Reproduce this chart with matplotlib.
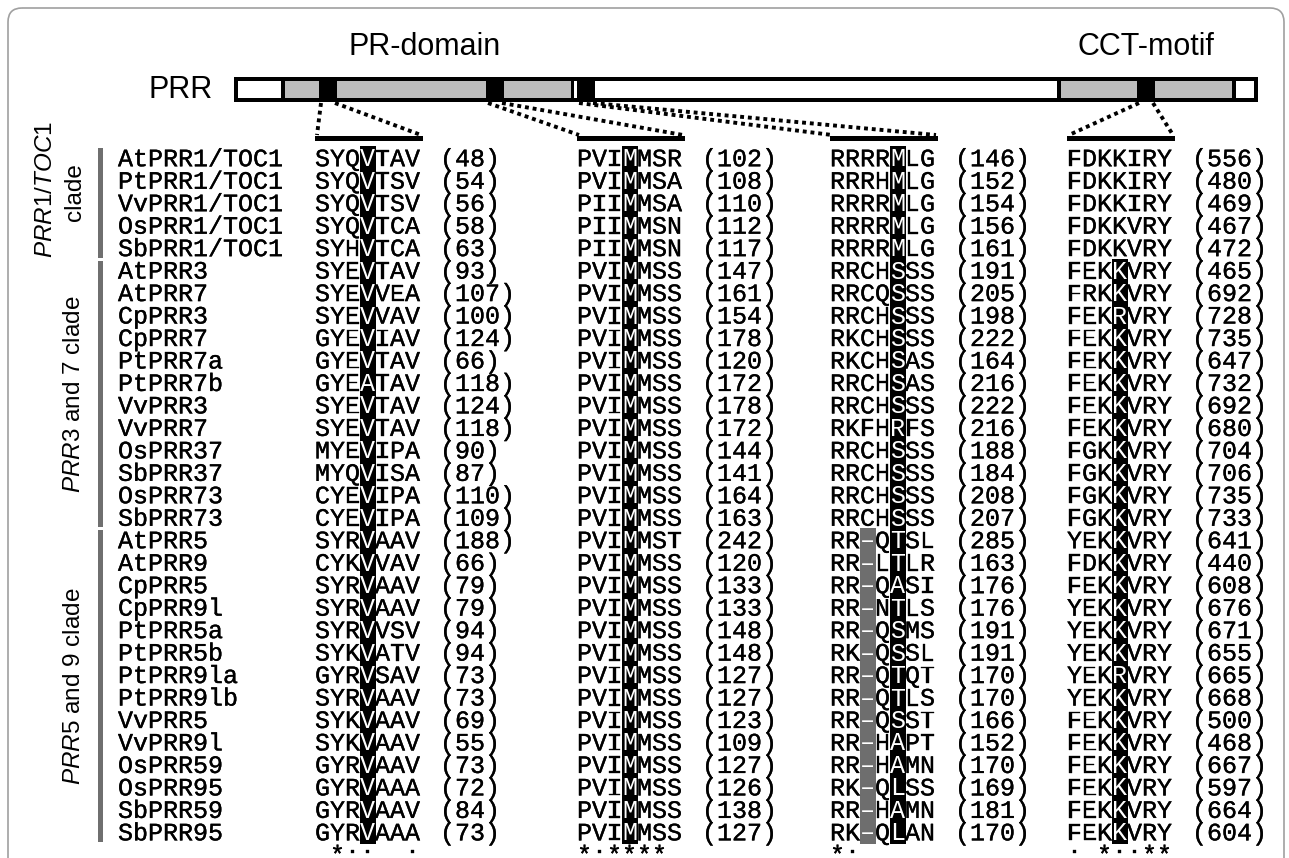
import matplotlib
matplotlib.use("Agg")
import matplotlib.pyplot as plt
from matplotlib.patches import Rectangle, FancyBboxPatch
from matplotlib import patheffects

# ---------------- data ----------------
names = ["AtPRR1/TOC1", "PtPRR1/TOC1", "VvPRR1/TOC1", "OsPRR1/TOC1", "SbPRR1/TOC1",
         "AtPRR3", "AtPRR7", "CpPRR3", "CpPRR7", "PtPRR7a", "PtPRR7b", "VvPRR3", "VvPRR7",
         "OsPRR37", "SbPRR37", "OsPRR73", "SbPRR73",
         "AtPRR5", "AtPRR9", "CpPRR5", "CpPRR9l", "PtPRR5a", "PtPRR5b", "PtPRR9la", "PtPRR9lb",
         "VvPRR5", "VvPRR9l", "OsPRR59", "OsPRR95", "SbPRR59", "SbPRR95"]

motif1 = ["SYQVTAV", "SYQVTSV", "SYQVTSV", "SYQVTCA", "SYHVTCA",
          "SYEVTAV", "SYEVVEA", "SYEVVAV", "GYEVIAV", "GYEVTAV", "GYEATAV", "SYEVTAV", "SYEVTAV",
          "MYEVIPA", "MYQVISA", "CYEVIPA", "CYEVIPA",
          "SYRVAAV", "CYKVVAV", "SYRVAAV", "SYRVAAV", "SYRVVSV", "SYKVATV", "GYRVSAV", "SYRVAAV",
          "SYKVAAV", "SYKVAAV", "GYRVAAV", "GYRVAAA", "GYRVAAV", "GYRVAAA"]
pos1 = [48, 54, 56, 58, 63, 93, 107, 100, 124, 66, 118, 124, 118, 90, 87, 110, 109,
        188, 66, 79, 79, 94, 94, 73, 73, 69, 55, 73, 72, 84, 73]

motif2 = ["PVIMMSR", "PVIMMSA", "PIIMMSA", "PIIMMSN", "PIIMMSN",
          "PVIMMSS", "PVIMMSS", "PVIMMSS", "PVIMMSS", "PVIMMSS", "PVIMMSS", "PVIMMSS", "PVIMMSS",
          "PVIMMSS", "PVIMMSS", "PVIMMSS", "PVIMMSS",
          "PVIMMST", "PVIMMSS", "PVIMMSS", "PVIMMSS", "PVIMMSS", "PVIMMSS", "PVIMMSS", "PVIMMSS",
          "PVIMMSS", "PVIMMSS", "PVIMMSS", "PVIMMSS", "PVIMMSS", "PVIMMSS"]
pos2 = [102, 108, 110, 112, 117, 147, 161, 154, 178, 120, 172, 178, 172, 144, 141, 164, 163,
        242, 120, 133, 133, 148, 148, 127, 127, 123, 109, 127, 126, 138, 127]

motif3 = ["RRRRMLG", "RRRHMLG", "RRRRMLG", "RRRRMLG", "RRRRMLG",
          "RRCHSSS", "RRCQSSS", "RRCHSSS", "RKCHSSS", "RKCHSAS", "RRCHSAS", "RRCHSSS", "RKFHRFS",
          "RRCHSSS", "RRCHSSS", "RRCHSSS", "RRCHSSS",
          "RR-QTSL", "RR-LTLR", "RR-QASI", "RR-NTLS", "RR-QSMS", "RK-QSSL", "RR-QTQT", "RR-QTLS",
          "RR-QSST", "RR-HAPT", "RR-HAMN", "RK-QLSS", "RR-HAMN", "RK-QLAN"]
pos3 = [146, 152, 154, 156, 161, 191, 205, 198, 222, 164, 216, 222, 216, 188, 184, 208, 207,
        285, 163, 176, 176, 191, 191, 170, 170, 166, 152, 170, 169, 181, 170]

motif4 = ["FDKKIRY", "FDKKIRY", "FDKKIRY", "FDKKVRY", "FDKKVRY",
          "FEKKVRY", "FRKKVRY", "FEKRVRY", "FEKKVRY", "FEKKVRY", "FEKKVRY", "FEKKVRY", "FEKKVRY",
          "FGKKVRY", "FGKKVRY", "FGKKVRY", "FGKKVRY",
          "YEKKVRY", "FDKKVRY", "FEKKVRY", "YEKKVRY", "YEKKVRY", "YEKKVRY", "YEKRVRY", "YEKKVRY",
          "FEKKVRY", "FEKKVRY", "FEKKVRY", "FEKKVRY", "FEKKVRY", "FEKKVRY"]
pos4 = [556, 480, 469, 467, 472, 465, 692, 728, 735, 647, 732, 692, 680, 704, 706, 735, 733,
        641, 440, 608, 676, 671, 655, 665, 668, 500, 468, 667, 597, 664, 604]

conservation = [" *::  :", "*:**** ", "*:     ", ": *::**"]

# highlighted (conserved-site) column in each motif, and the rows it covers
hl_col = [3, 3, 4, 3]
hl_rows = [(0, 30), (0, 30), (0, 30), (5, 30)]

clade_labels = ["PRR1/TOC1", "PRR3 and 7", "PRR5 and 9"]
clade_rows = [(0, 4), (5, 16), (17, 30)]

# protein schematic: (start, end, fill) in pixel layout units
bar_segments = [(238, 281, "white"), (285, 319, "#bdbdbd"), (337, 486, "#bdbdbd"),
                (504, 571, "#bdbdbd"), (574, 577, "white"), (595, 1057, "white"),
                (1061, 1137, "#bdbdbd"), (1155, 1232, "#bdbdbd"), (1236, 1254, "white")]
motif_blocks = [(319, 337), (486, 504), (577, 595), (1137, 1155)]

# ---------------- layout ----------------
W, H, DPI = 1289, 858, 100
MONO = "Liberation Mono"
SANS = "Liberation Sans"
FS = 18
PITCH = 15.0
ROW0, ROWH = 158.0, 22.47
CAPH = 0.66 * FS * DPI / 72.0
NAME_X = 118
MOTIF_X = [315, 577, 830, 1067]
HBAR_Y = 138
BOLD_K = [patheffects.withStroke(linewidth=0.25, foreground="black")]

plt.rcParams["mathtext.fontset"] = "custom"
plt.rcParams["mathtext.rm"] = SANS
plt.rcParams["mathtext.it"] = SANS + ":italic"

fig = plt.figure(figsize=(W / DPI, H / DPI), dpi=DPI)
ax = fig.add_axes([0, 0, 1, 1])
ax.set_xlim(0, W)
ax.set_ylim(H, 0)
ax.axis("off")


def yc(r):
    return ROW0 + r * ROWH


# outer rounded frame
ax.add_patch(FancyBboxPatch((8, 8), 1276, 920, boxstyle="round,pad=0,rounding_size=14",
                            fc="none", ec="#a0a0a0", lw=1.2))

# top labels
ax.text(425, 47, "PR-domain", family=SANS, size=22, ha="center", va="center")
ax.text(1146, 47, "CCT-motif", family=SANS, size=22, ha="center", va="center")
ax.text(213, 90, "PRR", family=SANS, size=22, ha="right", va="center")

# protein bar
ax.add_patch(Rectangle((234, 77), 1258 - 234, 25, fc="black", lw=0))
for x0, x1, c in bar_segments:
    ax.add_patch(Rectangle((x0, 81), x1 - x0, 17, fc=c, lw=0))

# motif bars and dotted connectors
seqs = [motif1, motif2, motif3, motif4]
poss = [pos1, pos2, pos3, pos4]
for b, (bx0, bx1) in enumerate(motif_blocks):
    hx0 = MOTIF_X[b]
    hx1 = MOTIF_X[b] + 7 * PITCH + 3
    ax.add_patch(Rectangle((hx0, HBAR_Y - 2.5), hx1 - hx0, 5, fc="black", lw=0))
    for sx, ex in ((bx0 + 2, hx0 + 2), (bx1 - 2, hx1 - 2)):
        ax.plot([sx, ex], [103, HBAR_Y - 3], color="black", lw=2.8,
                linestyle=(0, (1.0, 1.0)), dash_capstyle="butt")

# clade bars and labels
for (r0, r1) in clade_rows:
    ax.add_patch(Rectangle((98, yc(r0) - ROWH / 2 + 1.5), 5, (r1 - r0 + 1) * ROWH - 3,
                           fc="#6f6f6f", lw=0))
ax.text(46, 190, r"$\mathit{" + clade_labels[0] + "}$", rotation=90, family=SANS, size=17.5,
        ha="center", va="center")
ax.text(75, 192, "clade", rotation=90, family=SANS, size=17.5, ha="center", va="center")
for lab, (r0, r1) in zip(clade_labels[1:], clade_rows[1:]):
    g, rest = lab.split(" ", 1)
    ax.text(74, (yc(r0) + yc(r1)) / 2, r"$\mathit{" + g + "}$ " + rest + " clade", rotation=90,
            family=SANS, size=17.5, ha="center", va="center")

# alignment rows
for r, name in enumerate(names):
    base = yc(r) + CAPH / 2
    ax.text(NAME_X, base, name, family=MONO, size=FS, ha="left", va="baseline",
            path_effects=BOLD_K)
    for b in range(4):
        s = seqs[b][r]
        for k, ch in enumerate(s):
            cx = MOTIF_X[b] + (k + 0.5) * PITCH
            color, pe = "black", BOLD_K
            if ch == "-":
                ax.add_patch(Rectangle((cx - 8, yc(r) - ROWH / 2 - 0.3), 16, ROWH + 0.6,
                                       fc="#6e6e6e", lw=0))
                ch = "\u2013"
                color, pe = "white", None
            elif k == hl_col[b] and hl_rows[b][0] <= r <= hl_rows[b][1]:
                ax.add_patch(Rectangle((cx - 8, yc(r) - ROWH / 2 - 0.3), 16, ROWH + 0.6,
                                       fc="black", lw=0))
                color, pe = "white", None
            ax.text(cx, base, ch, family=MONO, size=FS, ha="center", va="baseline",
                    color=color, path_effects=pe)
        ax.text(MOTIF_X[b] + 8 * PITCH + 5, base, "(%d)" % poss[b][r], family=MONO, size=FS,
                ha="left", va="baseline", path_effects=BOLD_K)

# conservation line
base = yc(len(names)) + CAPH / 2
for b in range(4):
    for k, ch in enumerate(conservation[b]):
        if ch != " ":
            ax.text(MOTIF_X[b] + (k + 0.5) * PITCH, base, ch, family=MONO, size=FS,
                    ha="center", va="baseline", path_effects=BOLD_K)

fig.savefig("out.png", dpi=DPI)
